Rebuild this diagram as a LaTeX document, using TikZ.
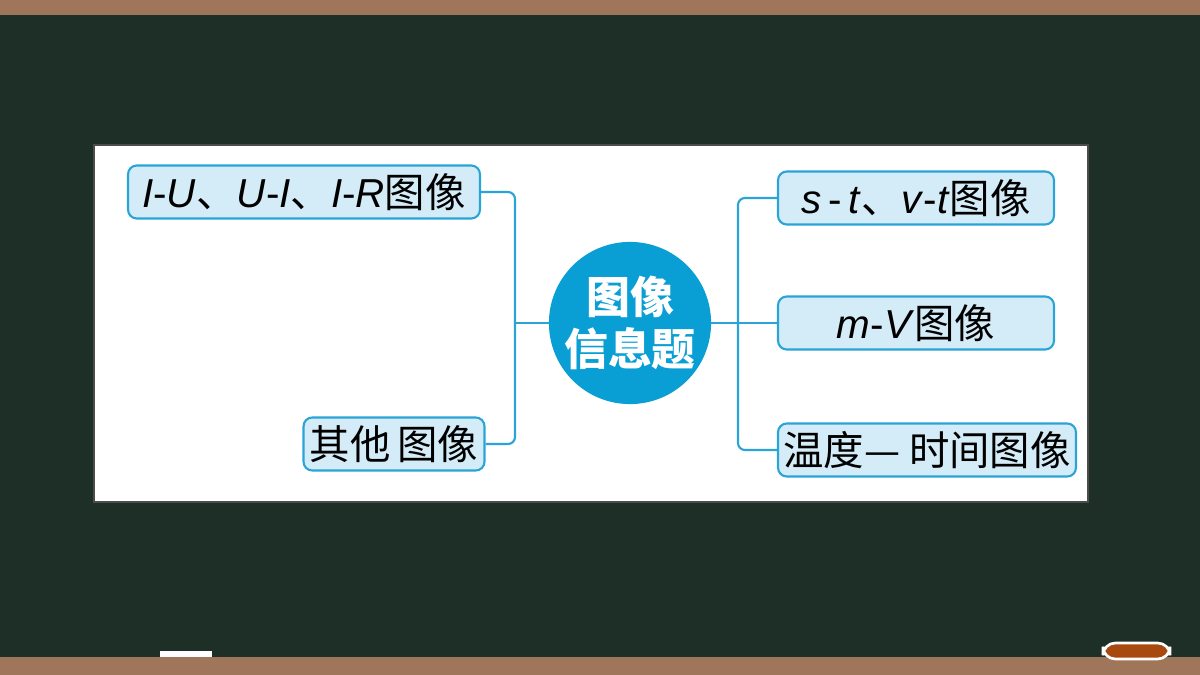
\documentclass[tikz,border=0pt]{standalone}
\usepackage{fontspec}
\setmainfont{Liberation Sans}
\newfontfamily\cjk{Noto Sans CJK SC}
\usetikzlibrary{positioning}
\definecolor{board}{HTML}{1E2F28}
\definecolor{wood}{HTML}{A0765A}
\definecolor{boxfill}{HTML}{D4ECF7}
\definecolor{boxline}{HTML}{2AA4D6}
\definecolor{hub}{HTML}{0A9FD4}
\definecolor{eraser}{HTML}{A84A10}
\newcommand{\zh}[1]{{\cjk #1}}
\newcommand{\vi}[1]{\textit{#1}}
\begin{document}
\begin{tikzpicture}[x=0.02cm,y=-0.02cm,
		topic/.style={draw=boxline, line width=1.2pt, fill=boxfill, rounded corners=5pt,
			inner sep=0pt, minimum height=1.06cm, font=\fontsize{23}{26}\selectfont},
		hubStyle/.style={circle, fill=hub, minimum size=3.2cm, inner sep=0pt,
			text=white, align=center, font=\cjk\bfseries\fontsize{25}{30}\selectfont},
		link/.style={draw=boxline, line width=1.2pt, rounded corners=4pt},
	]
	% board and frame
	\fill[board] (0,0) rectangle (1200,675);
	\fill[wood] (0,0) rectangle (1200,15);
	\fill[wood] (0,657) rectangle (1200,675);
	\fill[white] (160,651) rectangle (212,657);
	\filldraw[fill=eraser, draw=white, line width=1.5pt, rounded corners=7pt] (1103,643) rectangle (1170,659);
	\filldraw[fill=white, draw=black!70, line width=0.6pt] (94,145) rectangle (1088,502);

	% nodes
	\node(hub)[hubStyle] at (630,323) {图像\\信息题};
	\node(iu)[topic, minimum width=7.04cm] at (304,192)
		{\vi{I}-\vi{U}\zh{、}\vi{U}-\vi{I}\zh{、}\vi{I}-\vi{R}\zh{图像}};
	\node(other)[topic, minimum width=3.62cm] at (394,444) {\zh{其他\,图像}};
	\node(st)[topic, minimum width=5.52cm] at (916,198)
		{\vi{s}\,-\,\vi{t}\zh{、}\vi{v}-\vi{t}\zh{图像}};
	\node(mv)[topic, minimum width=5.52cm] at (916,323) {\vi{m}-\vi{V}\zh{图像}};
	\node(temp)[topic, minimum width=5.96cm] at (927,450) {\zh{温度— 时间图像}};

	% connectors
	\coordinate (lj) at (515,323);
	\coordinate (rj) at (738,323);
	\draw[link] (hub.west) -- (lj);
	\draw[link] (lj) |- (iu.east);
	\draw[link] (lj) |- (other.east);
	\draw[link] (hub.east) -- (mv.west);
	\draw[link] (rj) |- (st.west);
	\draw[link] (rj) |- (temp.west);
\end{tikzpicture}
\end{document}
